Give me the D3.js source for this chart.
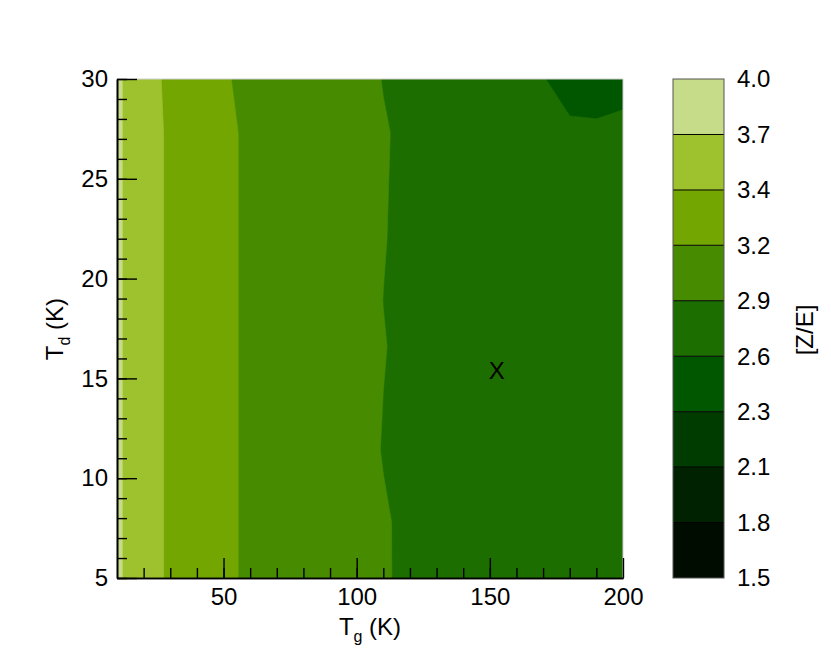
<!DOCTYPE html>
<html><head><meta charset="utf-8">
<script src="https://cdn.jsdelivr.net/npm/d3@7"></script>
<style>
body{margin:0;background:#fff}
text{font-family:"Liberation Sans", Arial, Helvetica, sans-serif}
</style>
</head><body>
<svg id="chart" width="831" height="665"></svg>
<script>
// ---- data ----
const tgGrid = [10,20,30,40,50,60,70,80,90,100,110,120,130,140,150,160,170,180,190,200];
const tdGrid = [5, 7.8, 11.4, 16.6, 18.9, 22, 27.3, 30];
// Z/E values, one row per Td (bottom to top), one column per Tg
const zTd5    = [3.75,3.61,3.389,3.29,3.20,3.14,3.08,3.03,2.98,2.94,2.9026,2.86,2.83,2.80,2.78,2.76,2.74,2.72,2.705,2.69];
const zTd7_8  = [3.75,3.61,3.389,3.29,3.20,3.14,3.08,3.03,2.98,2.94,2.9020,2.86,2.83,2.80,2.78,2.76,2.74,2.72,2.705,2.69];
const zTd11_4 = [3.75,3.61,3.389,3.29,3.20,3.14,3.08,3.03,2.98,2.94,2.8827,2.86,2.83,2.80,2.78,2.76,2.74,2.72,2.705,2.69];
const zTd16_6 = [3.75,3.61,3.389,3.29,3.20,3.14,3.08,3.03,2.98,2.94,2.8937,2.86,2.83,2.80,2.78,2.76,2.74,2.72,2.705,2.69];
const zTd18_9 = [3.75,3.61,3.389,3.29,3.20,3.14,3.08,3.03,2.98,2.94,2.8880,2.86,2.83,2.80,2.78,2.76,2.74,2.72,2.705,2.69];
const zTd22   = [3.75,3.61,3.389,3.29,3.20,3.14,3.08,3.03,2.98,2.94,2.8937,2.86,2.83,2.80,2.78,2.76,2.74,2.72,2.705,2.69];
const zTd27_3 = [3.75,3.61,3.389,3.29,3.20,3.14,3.08,3.03,2.98,2.94,2.8992,2.86,2.83,2.80,2.78,2.76,2.74,2.648,2.643,2.664];
const zTd30   = [3.75,3.61,3.3585,3.29,3.178,3.14,3.08,3.03,2.98,2.94,2.884,2.86,2.83,2.80,2.78,2.76,2.62,2.53,2.52,2.54];
const zGrid = [zTd5, zTd7_8, zTd11_4, zTd16_6, zTd18_9, zTd22, zTd27_3, zTd30];

const levels = [1.5, 1.778, 2.056, 2.333, 2.611, 2.889, 3.167, 3.444, 3.722, 4.0];
const levelLabels = ["1.5","1.8","2.1","2.3","2.6","2.9","3.2","3.4","3.7","4.0"];
const bandColors = ["#000c00","#002200","#003c00","#005700","#1d6e00","#478b00","#73a600","#9ec22d","#c6dc88"];
const xTicks = [50,100,150,200];
const yTicks = [5,10,15,20,25,30];
const marker = {tg: 152.6, td: 15.4, label: "X"};

// ---- drawing ----
const svg = d3.select("#chart");
const x = d3.scaleLinear().domain([10,200]).range([117,623]);
const y = d3.scaleLinear().domain([5,30]).range([578,79]);
const FS = 24;

const nx = tgGrid.length, ny = tdGrid.length;
const flat = zGrid.flat();
const gi = d3.scaleLinear().domain(d3.range(nx)).range(tgGrid).clamp(true);
const gj = d3.scaleLinear().domain(d3.range(ny)).range(tdGrid).clamp(true);
const proj = d3.geoTransform({
  point(px, py){ this.stream.point(x(gi(px - 0.5)), y(gj(py - 0.5))); }
});
const path = d3.geoPath(proj);
const contours = d3.contours().size([nx, ny]).thresholds(levels.slice(0, -1))(flat);

svg.append("clipPath").attr("id","clip").append("rect")
  .attr("x", x(10)).attr("y", y(30)).attr("width", x(200)-x(10)).attr("height", y(5)-y(30));

svg.append("g").attr("clip-path","url(#clip)")
  .selectAll("path").data(contours).join("path")
  .attr("d", path)
  .attr("fill", (d,i) => bandColors[i])
  .attr("stroke", (d,i) => bandColors[i])
  .attr("stroke-width", 0.6);

// light frame top/right
svg.append("path")
  .attr("d", `M${x(10)},${y(30)}H${x(200)}V${y(5)}`)
  .attr("fill","none").attr("stroke","#cfcfcf").attr("stroke-width",1);

// axes
function styleAxis(g){
  g.selectAll("path.domain").attr("stroke","#000").attr("stroke-width",1.6);
  g.selectAll(".tick line").attr("stroke","#000").attr("stroke-width",1.4);
  g.selectAll(".tick text").attr("font-size",FS).attr("fill","#000")
    .attr("font-family",'"Liberation Sans", Arial, sans-serif');
}
// minor ticks
svg.append("g").attr("transform",`translate(${x(10)},0)`)
  .call(d3.axisLeft(y).tickValues(d3.range(5,31,1)).tickSize(-10).tickSizeOuter(0).tickFormat(""))
  .call(styleAxis);
svg.append("g").attr("transform",`translate(0,${y(5)})`)
  .call(d3.axisBottom(x).tickValues(d3.range(20,200,10)).tickSize(-10).tickSizeOuter(0).tickFormat(""))
  .call(styleAxis);
// major ticks
svg.append("g").attr("transform",`translate(${x(10)},0)`)
  .call(d3.axisLeft(y).tickValues(yTicks).tickSize(-20).tickSizeOuter(0).tickPadding(9))
  .call(styleAxis);
svg.append("g").attr("transform",`translate(0,${y(5)})`)
  .call(d3.axisBottom(x).tickValues(xTicks).tickSize(-20).tickSizeOuter(0).tickPadding(10))
  .call(styleAxis);

// axis titles
const xt = svg.append("text").attr("x", 370).attr("y", 635).attr("text-anchor","middle")
  .attr("font-size", FS);
xt.append("tspan").text("T");
xt.append("tspan").attr("font-size", 16).attr("dy", 7).text("g");
xt.append("tspan").attr("dy", -7).text(" (K)");

const yt = svg.append("text").attr("transform","translate(63,329) rotate(-90)")
  .attr("text-anchor","middle").attr("font-size", FS);
yt.append("tspan").text("T");
yt.append("tspan").attr("font-size", 16).attr("dy", 7).text("d");
yt.append("tspan").attr("dy", -7).text(" (K)");

// marker
svg.append("text").attr("x", x(marker.tg)).attr("y", y(marker.td)).attr("dy","0.35em")
  .attr("text-anchor","middle").attr("font-size", FS).text(marker.label);

// colorbar
const cb = d3.scaleLinear().domain([levels[0], levels[levels.length-1]]).range([578,79]);
const cbx = 673, cbw = 51;
const bands = d3.range(levels.length - 1);
svg.append("g").selectAll("rect").data(bands).join("rect")
  .attr("x", cbx).attr("width", cbw)
  .attr("y", i => cb(levels[i+1])).attr("height", i => cb(levels[i]) - cb(levels[i+1]))
  .attr("fill", i => bandColors[i]);
svg.append("g").selectAll("line").data(levels.slice(1,-1)).join("line")
  .attr("x1", cbx).attr("x2", cbx+cbw).attr("y1", d => cb(d)).attr("y2", d => cb(d))
  .attr("stroke","#000").attr("stroke-width",1);
svg.append("rect").attr("x", cbx).attr("y", cb(4.0)).attr("width", cbw).attr("height", cb(1.5)-cb(4.0))
  .attr("fill","none").attr("stroke","#555").attr("stroke-width",1);
svg.append("g").selectAll("text").data(levels).join("text")
  .attr("x", 737).attr("y", d => cb(d)).attr("dy","0.35em")
  .attr("font-size", FS).text((d,i) => levelLabels[i]);
svg.append("text").attr("transform","translate(813,330) rotate(-90)")
  .attr("text-anchor","middle").attr("font-size", FS).text("[Z/E]");
</script>
</body></html>
